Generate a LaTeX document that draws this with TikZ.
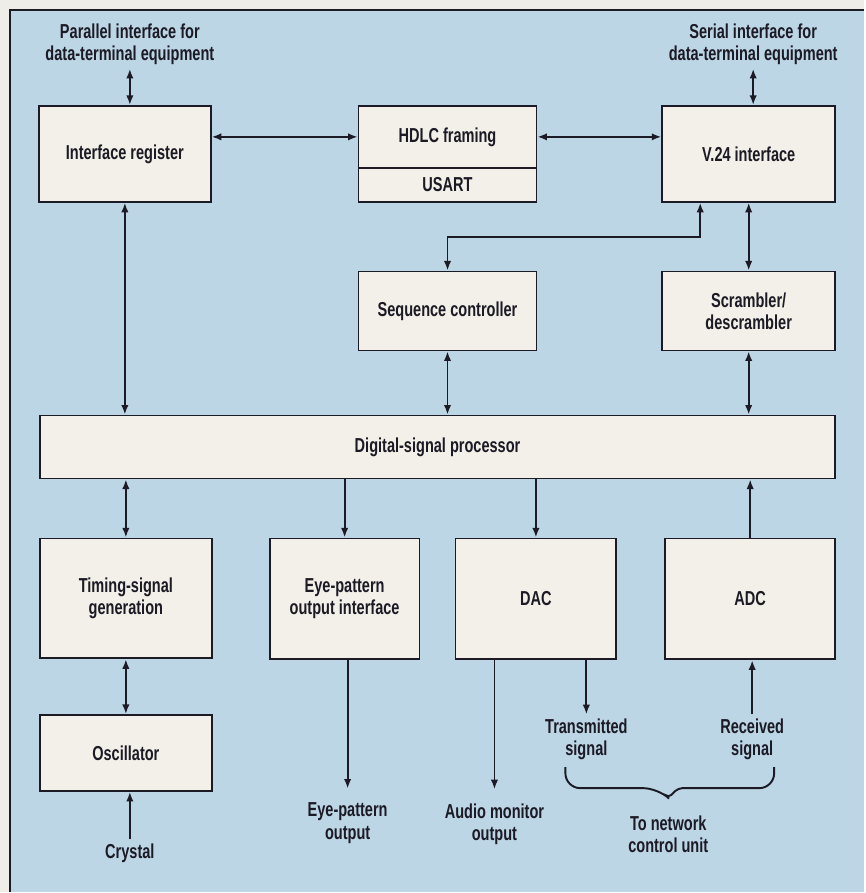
\documentclass[tikz,border=0pt]{standalone}
\usepackage{fontspec}
\setmainfont{Liberation Sans}[FakeStretch=0.72]
\usepackage{tikz}
\usetikzlibrary{positioning, arrows.meta}
\definecolor{bgblue}{RGB}{188,214,230}
\definecolor{boxfill}{RGB}{243,240,233}
\definecolor{ink}{RGB}{28,26,36}
\definecolor{paper}{RGB}{238,237,232}
\tikzset{
  block/.style={
    draw=ink, fill=boxfill, line width=1pt, text=ink,
    align=center, inner sep=0pt
  },
  lbl/.style={align=center, text=ink, inner sep=0.08cm},
  rel/.style={->, line width=1.1pt, draw=ink},
  relboth/.style={<->, line width=1.1pt, draw=ink},
  brace/.style={line width=1.1pt, draw=ink}
}

\begin{document}
\begin{tikzpicture}[font=\fontsize{11.5}{12.6}\selectfont\bfseries, >={Latex[length=5.5pt, width=4.2pt]}]
  % page and frame
  \fill[paper] (0,0) rectangle (17.3,-17.86);
  \fill[bgblue] (0.2,-0.2) rectangle (17.3,-17.86);
  \draw[ink, line width=1.1pt] (0.2,-17.86) -- (0.2,-0.2) -- (17.3,-0.2);
  \useasboundingbox (0,0) rectangle (17.3,-17.86);

  % top row
  \node[block, minimum width=3.44cm, minimum height=1.92cm] (ir) at (2.50,-3.08) {Interface register};
  \node[block, minimum width=3.56cm, minimum height=1.24cm] (hdlc) at (8.96,-2.74) {HDLC framing};
  \node[block, minimum width=3.56cm, minimum height=0.68cm, below=-1pt of hdlc] (usart) {USART};
  \node[block, minimum width=3.46cm, minimum height=1.92cm] (v24) at (14.99,-3.08) {V.24 interface};
  \node[lbl] (par) at (2.60,-0.88) {Parallel interface for\\data-terminal equipment};
  \node[lbl] (ser) at (15.08,-0.88) {Serial interface for\\data-terminal equipment};

  % second row
  \node[block, minimum width=3.56cm, minimum height=1.58cm, below=1.36cm of usart] (seq) {Sequence controller};
  \node[block, minimum width=3.46cm, minimum height=1.58cm, below=1.36cm of v24] (scr) {Scrambler/\\descrambler};

  % processor
  \node[block, minimum width=15.92cm, minimum height=1.26cm] (dsp) at (8.76,-8.95) {Digital-signal processor};

  % bottom row
  \node[block, minimum width=3.44cm, minimum height=2.40cm] (tsg) at (2.52,-11.98) {Timing-signal\\generation};
  \node[block, minimum width=3.00cm, minimum height=2.42cm] (eye) at (6.90,-11.99) {Eye-pattern\\output interface};
  \node[block, minimum width=3.22cm, minimum height=2.42cm] (dac) at (10.73,-11.99) {DAC};
  \node[block, minimum width=3.40cm, minimum height=2.42cm] (adc) at (15.02,-11.99) {ADC};
  \node[block, minimum width=3.44cm, minimum height=1.52cm, below=1.10cm of tsg] (osc) {Oscillator};

  % outside labels
  \node[lbl] (crystal) at (2.60,-17.08) {Crystal};
  \node[lbl] (eyeout) at (6.96,-16.48) {Eye-pattern\\output};
  \node[lbl] (audio) at (9.90,-16.50) {Audio monitor\\output};
  \node[lbl] (trans) at (11.74,-14.80) {Transmitted\\signal};
  \node[lbl] (recv) at (15.06,-14.80) {Received\\signal};
  \node[lbl] (tonet) at (13.38,-16.70) {To network\\control unit};

  % connectors
  \draw[relboth] (par.south) -- (par.south |- ir.north);
  \draw[relboth] (ser.south) -- (ser.south |- v24.north);
  \draw[relboth] (hdlc.west -| ir.east) -- (hdlc.west);
  \draw[relboth] (hdlc.east) -- (hdlc.east -| v24.west);
  \draw[relboth] ([xshift=-0.97cm]v24.south) -- ++(0,-0.68) -| (seq.north);
  \draw[relboth] (v24.south) -- (scr.north);
  \draw[relboth] (ir.south) -- (ir.south |- dsp.north);
  \draw[relboth] (seq.south) -- (seq.south |- dsp.north);
  \draw[relboth] (scr.south) -- (scr.south |- dsp.north);
  \draw[relboth] (tsg.north |- dsp.south) -- (tsg.north);
  \draw[rel] (dsp.south -| eye.north) -- (eye.north);
  \draw[rel] (dsp.south -| dac.north) -- (dac.north);
  \draw[rel] (adc.north) -- (adc.north |- dsp.south);
  \draw[relboth] (tsg.south) -- (osc.north);
  \draw[rel] (crystal.north) -- (crystal.north |- osc.south);
  \draw[rel, shorten >=0.2cm] (eye.south -| eyeout.north) -- (eyeout.north);
  \draw[rel, shorten >=0.2cm] (dac.south -| audio.north) -- (audio.north);
  \draw[rel] (dac.south -| trans.north) -- (trans.north);
  \draw[rel] (recv.north) -- (recv.north |- adc.south);

  % brace to network control unit
  \coordinate (bl) at (11.32,-15.36);
  \coordinate (br) at (15.50,-15.36);
  \coordinate (tip) at ([yshift=0.27cm]tonet.north);
  \draw[brace] (bl) [rounded corners=0.3cm] |- (13.18,-15.78) [rounded corners=0.08cm] -- (tip) -- (13.58,-15.78) [rounded corners=0.3cm] -| (br);
\end{tikzpicture}
\end{document}
